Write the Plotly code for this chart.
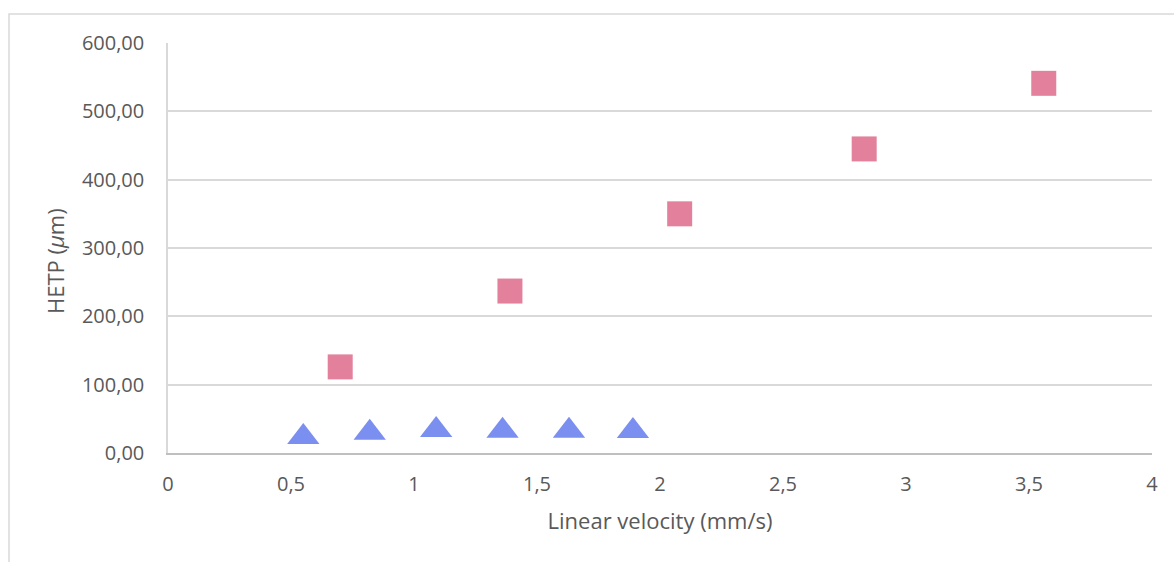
import plotly.graph_objects as go

# Data
sq_x = [0.70, 1.39, 2.08, 2.83, 3.56]
sq_y = [126, 237, 350, 445, 541]
tri_x = [0.55, 0.82, 1.09, 1.36, 1.63, 1.89]
tri_y = [23.4, 29.5, 33.7, 32.6, 32.6, 32.2]

x_ticks = [0, 0.5, 1, 1.5, 2, 2.5, 3, 3.5, 4]
x_ticktext = ["0", "0,5", "1", "1,5", "2", "2,5", "3", "3,5", "4"]
y_ticks = [0, 100, 200, 300, 400, 500, 600]

FONT = "Open Sans"
TXT = "#595959"

# plot area in pixels (reference)
L, R, T, B = 168, 1152, 43, 453
W, H = 1174, 562

fig = go.Figure()
fig.add_trace(go.Scatter(
    x=sq_x, y=sq_y, mode="markers",
    marker=dict(symbol="square", size=25, color="#E3809C", line=dict(width=0)),
    showlegend=False, hoverinfo="x+y"))
fig.add_trace(go.Scatter(
    x=tri_x, y=tri_y, mode="markers",
    marker=dict(symbol="triangle-up", size=28, color="#7A8FF0", line=dict(width=0)),
    showlegend=False, hoverinfo="x+y"))

fig.update_layout(
    width=W, height=H,
    margin=dict(l=L, r=W - R, t=T, b=H - B, autoexpand=False),
    paper_bgcolor="white", plot_bgcolor="white",
    separators=", ",
    font=dict(family=FONT, size=20, color=TXT),
    xaxis=dict(
        range=[0, 4], tickvals=x_ticks, ticktext=x_ticktext,
        showgrid=False, zeroline=False,
        showline=True, linecolor="#BFBFBF", linewidth=2,
        ticks="outside", ticklen=12, tickcolor="rgba(0,0,0,0)",
        title=dict(text="Linear velocity (mm/s)", standoff=18, font=dict(size=22, color=TXT)),
        tickfont=dict(size=20, color=TXT),
    ),
    yaxis=dict(
        range=[0, 600], tickvals=y_ticks, tickformat=".2f",
        showgrid=True, gridcolor="#D9D9D9", gridwidth=1.5,
        zeroline=False,
        showline=True, linecolor="#D9D9D9", linewidth=1.5,
        ticks="outside", ticklen=18, tickcolor="rgba(0,0,0,0)",
        tickfont=dict(size=20, color=TXT),
    ),
    annotations=[dict(
        text="HETP (<i>μ</i>m)", textangle=-90, showarrow=False,
        xref="paper", yref="paper",
        x=(55 - L) / (R - L), y=(B - 261) / (B - T),
        xanchor="center", yanchor="middle",
        font=dict(size=22, color=TXT, family=FONT))],
    shapes=[dict(type="rect", xref="paper", yref="paper",
                 x0=(9 - L) / (R - L), x1=1.2, y0=-0.4, y1=(B - 14) / (B - T),
                 line=dict(color="#D9D9D9", width=1.5), layer="below")],
)

fig.write_html("out.html", config={"displayModeBar": False},
               post_script="document.body.style.margin='0';")
